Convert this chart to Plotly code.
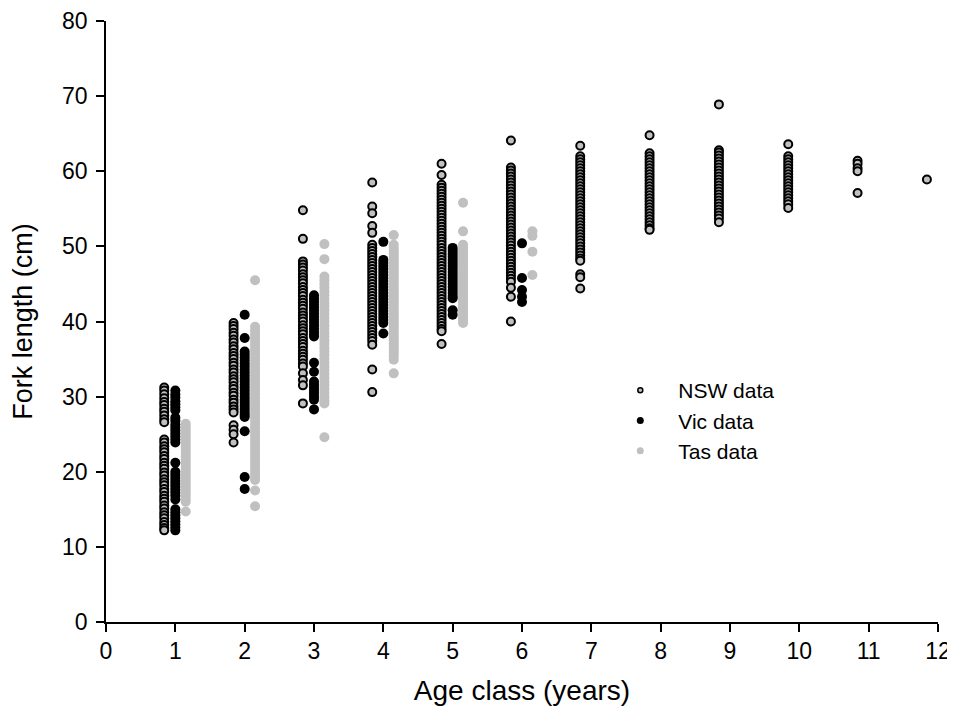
import plotly.graph_objects as go

# ---- Data: fork length (cm) by age class (years) ----
ages = [1, 2, 3, 4, 5, 6, 7, 8, 9, 10, 11, 12]

nsw_1 = [31.2, 30.8, 30.3, 29.8, 29.3, 28.9, 28.4, 28.0, 27.5, 27.0, 26.6,
         24.3, 23.9, 23.4, 23.0, 22.6, 22.1, 21.7, 21.2, 20.8, 20.4, 19.9, 19.5,
         19.0, 18.6, 18.2, 17.7, 17.3, 16.8, 16.4, 16.0, 15.5, 15.1, 14.6, 14.2,
         13.8, 13.3, 12.9, 12.5, 12.2]
nsw_2 = [39.8, 39.4, 39.0, 38.5, 38.1, 37.6, 37.2, 36.7, 36.3, 35.8, 35.4, 35.0,
         34.5, 34.1, 33.6, 33.2, 32.7, 32.3, 31.9, 31.4, 31.0, 30.5, 30.1, 29.6,
         29.2, 28.7, 28.3, 27.9, 26.2, 25.6, 25.0, 23.9]
nsw_3 = [54.8, 51.0, 48.0, 47.6, 47.2, 46.8, 46.3, 45.9, 45.5, 45.1, 44.6, 44.2,
         43.8, 43.4, 42.9, 42.5, 42.1, 41.7, 41.2, 40.8, 40.4, 40.0, 39.5, 39.1,
         38.7, 38.3, 37.8, 37.4, 37.0, 36.6, 36.1, 35.7, 35.3, 34.9, 34.4, 34.0,
         33.1, 32.2, 31.5, 29.1]
nsw_4 = [58.5, 55.3, 54.4, 52.7, 51.8, 50.2, 49.8, 49.4, 49.0, 48.6, 48.2, 47.8,
         47.4, 47.0, 46.6, 46.2, 45.8, 45.4, 45.0, 44.6, 44.2, 43.8, 43.4, 43.0,
         42.6, 42.2, 41.8, 41.4, 41.0, 40.6, 40.2, 39.8, 39.4, 39.0, 38.6, 38.2,
         37.8, 37.4, 36.9, 33.6, 30.6]
nsw_5 = [61.0, 59.5, 58.2, 57.8, 57.4, 57.0, 56.6, 56.2, 55.8, 55.4, 55.0, 54.6,
         54.2, 53.8, 53.4, 53.0, 52.6, 52.2, 51.8, 51.4, 51.0, 50.6, 50.2, 49.8,
         49.4, 49.0, 48.6, 48.2, 47.8, 47.4, 47.0, 46.6, 46.2, 45.8, 45.4, 45.0,
         44.6, 44.2, 43.8, 43.4, 43.0, 42.6, 42.2, 41.8, 41.4, 41.0, 40.6, 40.2,
         39.8, 39.4, 39.0, 38.7, 37.0]
nsw_6 = [64.1, 60.5, 60.1, 59.7, 59.3, 58.9, 58.5, 58.1, 57.7, 57.3, 56.9, 56.5,
         56.1, 55.7, 55.3, 54.9, 54.5, 54.1, 53.7, 53.3, 52.9, 52.5, 52.1, 51.7,
         51.3, 50.9, 50.5, 50.1, 49.7, 49.3, 48.9, 48.5, 48.1, 47.7, 47.3, 46.9,
         46.5, 46.1, 45.7, 45.3, 44.5, 43.3, 40.0]
nsw_7 = [63.4, 62.0, 61.6, 61.2, 60.8, 60.4, 60.0, 59.6, 59.2, 58.8, 58.4, 58.0,
         57.6, 57.2, 56.8, 56.4, 56.0, 55.6, 55.2, 54.8, 54.4, 54.0, 53.6, 53.2,
         52.8, 52.4, 52.0, 51.6, 51.2, 50.8, 50.4, 50.0, 49.6, 49.2, 48.8, 48.4,
         48.1, 46.3, 45.9, 44.4]
nsw_8 = [64.8, 62.4, 62.0, 61.6, 61.2, 60.8, 60.4, 60.0, 59.6, 59.2, 58.8, 58.4,
         58.0, 57.6, 57.2, 56.8, 56.4, 56.0, 55.6, 55.2, 54.8, 54.4, 54.0, 53.6,
         53.2, 52.8, 52.4, 52.2]
nsw_9 = [68.9, 62.8, 62.5, 62.1, 61.7, 61.3, 60.9, 60.5, 60.1, 59.7, 59.3, 58.9,
         58.5, 58.1, 57.7, 57.3, 56.9, 56.5, 56.1, 55.7, 55.3, 54.9, 54.5, 54.1,
         53.7, 53.2]
nsw_10 = [63.6, 62.0, 61.6, 61.2, 60.8, 60.4, 60.0, 59.6, 59.2, 58.8, 58.4, 58.0,
          57.6, 57.2, 56.8, 56.4, 56.0, 55.6, 55.1]
nsw_11 = [61.4, 61.0, 60.4, 60.0, 57.1]
nsw_12 = [58.9]

vic_1 = [30.8, 30.3, 29.9, 29.4, 29.0, 28.6, 28.2, 27.2, 26.8, 26.3, 25.9, 25.5,
         25.1, 24.7, 24.3, 23.9, 21.2, 20.0, 19.6, 19.2, 18.8, 18.4, 18.0, 17.6,
         17.2, 16.8, 16.3, 15.0, 14.6, 14.2, 13.8, 13.4, 13.0, 12.6, 12.2]
vic_2 = [40.9, 37.8, 36.0, 35.6, 35.2, 34.8, 34.4, 34.0, 33.6, 33.2, 32.8, 32.4,
         32.0, 31.6, 31.2, 30.8, 30.4, 30.0, 29.6, 29.2, 28.8, 28.4, 28.0, 27.6,
         27.3, 25.4, 19.3, 17.7]
vic_3 = [43.5, 43.1, 42.7, 42.3, 41.9, 41.5, 41.1, 40.7, 40.3, 39.9, 39.5, 39.1,
         38.7, 38.3, 38.0, 34.5, 33.3, 32.0, 31.6, 31.2, 30.8, 30.4, 30.0, 29.6,
         28.3]
vic_4 = [50.6, 48.2, 47.8, 47.4, 47.0, 46.6, 46.2, 45.8, 45.4, 45.0, 44.6, 44.2,
         43.8, 43.4, 43.0, 42.6, 42.2, 41.8, 41.4, 41.0, 40.6, 40.2, 39.8, 38.4]
vic_5 = [49.8, 49.4, 49.0, 48.6, 48.2, 47.8, 47.4, 47.0, 46.6, 46.2, 45.8, 45.4,
         45.0, 44.6, 44.2, 43.8, 43.4, 43.1, 41.5, 40.9]
vic_6 = [50.4, 45.8, 44.2, 43.3, 42.6]

tas_1 = [26.4, 26.0, 25.6, 25.2, 24.8, 24.4, 24.0, 23.6, 23.2, 22.8, 22.4, 22.0,
         21.6, 21.2, 20.8, 20.4, 20.0, 19.6, 19.2, 18.8, 18.4, 18.0, 17.6, 17.2,
         16.8, 16.4, 16.0, 14.7]
tas_2 = [45.5, 39.3, 38.8, 38.3, 37.8, 37.3, 36.8, 36.3, 35.8, 35.3, 34.8, 34.3,
         33.8, 33.3, 32.8, 32.3, 31.8, 31.3, 30.8, 30.3, 29.8, 29.3, 28.8, 28.3,
         27.8, 27.3, 26.8, 26.3, 25.8, 25.3, 24.8, 24.3, 23.8, 23.3, 22.8, 22.3,
         21.8, 21.3, 20.8, 20.3, 19.8, 19.3, 18.9, 17.5, 15.4]
tas_3 = [50.3, 48.3, 46.0, 45.5, 45.0, 44.5, 44.0, 43.5, 43.0, 42.5, 42.0, 41.5,
         41.0, 40.5, 40.0, 39.5, 39.0, 38.5, 38.0, 37.5, 37.0, 36.5, 36.0, 35.5,
         35.0, 34.5, 34.0, 33.5, 33.0, 32.5, 32.0, 31.5, 31.0, 30.5, 30.0, 29.5,
         29.1, 24.6]
tas_4 = [51.5, 50.2, 49.8, 49.4, 49.0, 48.6, 48.2, 47.8, 47.4, 47.0, 46.6, 46.2,
         45.8, 45.4, 45.0, 44.6, 44.2, 43.8, 43.4, 43.0, 42.6, 42.2, 41.8, 41.4,
         41.0, 40.6, 40.2, 39.8, 39.4, 39.0, 38.6, 38.2, 37.8, 37.4, 37.0, 36.6,
         36.2, 35.8, 35.4, 34.9, 33.1]
tas_5 = [55.8, 52.0, 50.2, 49.8, 49.4, 49.0, 48.6, 48.2, 47.8, 47.4, 47.0, 46.6,
         46.2, 45.8, 45.4, 45.0, 44.6, 44.2, 43.8, 43.4, 43.0, 42.6, 42.2, 41.8,
         41.4, 41.0, 40.6, 40.2, 39.8]
tas_6 = [52.0, 51.4, 49.3, 46.2]

x_ticks = [0, 1, 2, 3, 4, 5, 6, 7, 8, 9, 10, 11, 12]
y_ticks = [0, 10, 20, 30, 40, 50, 60, 70, 80]

nsw_groups = [nsw_1, nsw_2, nsw_3, nsw_4, nsw_5, nsw_6, nsw_7, nsw_8, nsw_9,
              nsw_10, nsw_11, nsw_12]
vic_groups = [vic_1, vic_2, vic_3, vic_4, vic_5, vic_6]
tas_groups = [tas_1, tas_2, tas_3, tas_4, tas_5, tas_6]


def flatten(groups, offset):
    xs, ys = [], []
    for age, vals in zip(ages, groups):
        xs += [age + offset] * len(vals)
        ys += vals
    return xs, ys


FONT = "Liberation Sans, Arial, sans-serif"
GREY = "#c0c0c0"

fig = go.Figure()

x, y = flatten(nsw_groups, -0.16)
fig.add_trace(go.Scatter(x=x, y=y, mode="markers", showlegend=False,
                         marker=dict(size=8, color=GREY,
                                     line=dict(color="black", width=2))))
x, y = flatten(vic_groups, 0.0)
fig.add_trace(go.Scatter(x=x, y=y, mode="markers", showlegend=False,
                         marker=dict(size=10, color="black", line=dict(width=0))))
x, y = flatten(tas_groups, 0.15)
fig.add_trace(go.Scatter(x=x, y=y, mode="markers", showlegend=False,
                         marker=dict(size=10, color=GREY, line=dict(width=0))))

# legend entries (smaller symbols, as in the reference)
fig.add_trace(go.Scatter(x=[None], y=[None], mode="markers", name="NSW data",
                         marker=dict(size=5, color=GREY,
                                     line=dict(color="black", width=1.5))))
fig.add_trace(go.Scatter(x=[None], y=[None], mode="markers", name="Vic data",
                         marker=dict(size=7, color="black")))
fig.add_trace(go.Scatter(x=[None], y=[None], mode="markers", name="Tas data",
                         marker=dict(size=7, color=GREY)))

axis_common = dict(showline=True, linecolor="black", linewidth=1.5,
                   ticks="outside", ticklen=8, tickwidth=1.5, tickcolor="black",
                   showgrid=False, zeroline=False, mirror=False, automargin=False,
                   ticklabeloverflow="allow",
                   tickfont=dict(family=FONT, size=23, color="black"))

# page body adds an 8px margin, so the figure is sized to fit the 955x722 window
fig.update_layout(
    width=947, height=698,
    margin=dict(l=98, r=17, t=13, b=84),
    paper_bgcolor="white", plot_bgcolor="white",
    font=dict(family=FONT, color="black"),
    xaxis=dict(range=[0, 12], tickvals=x_ticks, ticktext=[str(v) for v in x_ticks],
               title=dict(text="Age class (years)",
                          font=dict(family=FONT, size=28), standoff=28),
               **axis_common),
    yaxis=dict(range=[0, 80], tickvals=y_ticks, ticktext=[str(v) for v in y_ticks],
               ticklabelstandoff=4,
               title=dict(text="Fork length (cm)",
                          font=dict(family=FONT, size=27), standoff=22),
               **axis_common),
    legend=dict(x=0.5965, y=0.4193, xanchor="left", yanchor="top",
                itemwidth=66, bgcolor="rgba(0,0,0,0)",
                font=dict(family=FONT, size=21, color="black")),
)

fig.write_html("out.html")
